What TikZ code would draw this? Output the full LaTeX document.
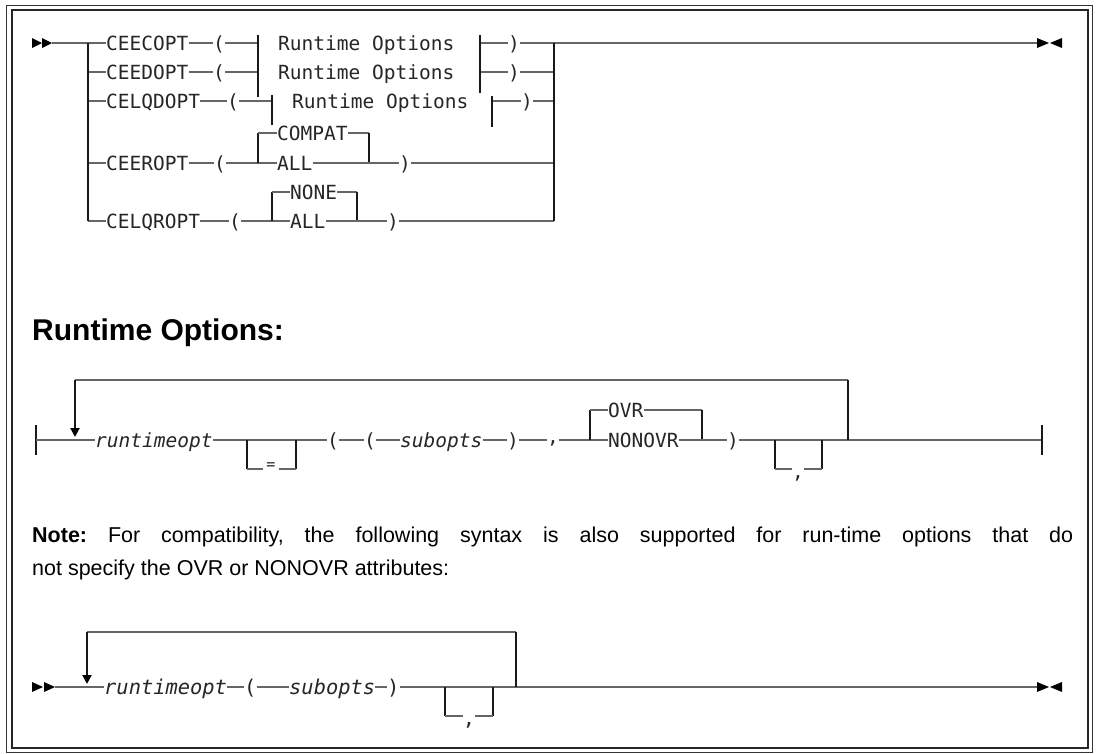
\documentclass[tikz,border=0pt]{standalone}
\usepackage{fontspec}
\setmainfont{Liberation Sans}
\newfontfamily\dmono{DejaVu Sans Mono}
\usetikzlibrary{arrows.meta}
\begin{document}
\frenchspacing
\begin{tikzpicture}[x=1pt,y=-1pt,
  hl/.style={line width=1.5pt, draw=black!60},
  vl/.style={line width=2pt, draw=black!90},
  tx/.style={font=\dmono\fontsize{19.5}{22}\selectfont, inner sep=0pt, text height=14.2pt, text depth=0pt, anchor=west, text=black!85},
  tit/.style={tx, font=\dmono\itshape\fontsize{19.5}{22}\selectfont},
  tb/.style={tx, font=\dmono\fontsize{20.4}{24}\selectfont, text height=14.9pt},
  tbi/.style={tb, font=\dmono\itshape\fontsize{20.4}{24}\selectfont},
  sm/.style={font=\dmono\fontsize{15}{15}\selectfont, inner sep=3pt, text=black!85},
  tri/.style={fill=black, draw=none},
  loopdown/.style={vl, -{Triangle[width=9pt,length=9pt,color=black]}, shorten >=3pt},
  note/.style={anchor=base west, inner sep=0pt, font=\fontsize{21.5}{26}\selectfont},
]
\useasboundingbox (0,0) rectangle (1098,753);
\fill[white] (0,0) rectangle (1098,753);
% frame
\draw[line width=1pt, black!80] (6,5) rectangle (1092,752);
\draw[line width=2pt, black!85] (12,10) rectangle (1088,748);

% ===== top diagram =====
\fill[tri] (32,38)--(42,43)--(32,48)--cycle;
\fill[tri] (42,38)--(52,43)--(42,48)--cycle;
\fill[tri] (1037,38)--(1049,43)--(1037,48)--cycle;
\fill[tri] (1062,38)--(1050,43)--(1062,48)--cycle;
\coordinate (s1) at (52,43);
\coordinate (bl) at (88,43);
\coordinate (blb) at (88,221);
\coordinate (br) at (554,43);
\coordinate (brb) at (554,221);
\coordinate (e1) at (1037,43);

% row 1
\node[tx] (c1) at (106,43) {CEECOPT};
\node[tx] (o1) at (213,43) {(};
\node[tx] (r1) at (278,43) {Runtime Options};
\node[tx] (k1) at (508,43) {)};
\draw[hl] (s1) -- (c1.west);
\draw[hl] (c1.east) -- (o1.west);
\draw[hl] (o1.east) -- (258,43);
\draw[hl] (480,43) -- (k1.west);
\draw[hl] (k1.east) -- (br) -- (e1);
% row 2
\node[tx] (c2) at (106,72) {CEEDOPT};
\node[tx] (o2) at (213,72) {(};
\node[tx] (r2) at (278,72) {Runtime Options};
\node[tx] (k2) at (508,72) {)};
\draw[hl] (88,72) -- (c2.west);
\draw[hl] (c2.east) -- (o2.west);
\draw[hl] (o2.east) -- (258,72);
\draw[hl] (480,72) -- (k2.west);
\draw[hl] (k2.east) -- (554,72);
% row 3
\node[tx] (c3) at (106,101) {CELQDOPT};
\node[tx] (o3) at (227,101) {(};
\node[tx] (r3) at (292,101) {Runtime Options};
\node[tx] (k3) at (521,101) {)};
\draw[hl] (88,101) -- (c3.west);
\draw[hl] (c3.east) -- (o3.west);
\draw[hl] (o3.east) -- (272,101);
\draw[hl] (492,101) -- (k3.west);
\draw[hl] (k3.east) -- (554,101);
% bars of the Runtime Options fragments
\draw[vl] (258,35) -- (258,97);
\draw[vl] (480,35) -- (480,93);
\draw[vl] (272,95) -- (272,125);
\draw[vl] (492,96) -- (492,127);
% row 4
\node[tx] (c4) at (106,163) {CEEROPT};
\node[tx] (o4) at (214,163) {(};
\node[tx] (cp) at (277,133) {COMPAT};
\node[tx] (a4) at (277,163) {ALL};
\node[tx] (k4) at (399,163) {)};
\draw[hl] (88,163) -- (c4.west);
\draw[hl] (c4.east) -- (o4.west);
\draw[hl] (o4.east) -- (a4.west);
\draw[vl] (258,133) -- (258,163);
\draw[hl] (258,133) -- (cp.west);
\draw[hl] (cp.east) -- (369,133);
\draw[vl] (369,133) -- (369,163);
\draw[hl] (a4.east) -- (k4.west);
\draw[hl] (k4.east) -- (554,163);
% row 5
\node[tx] (c5) at (106,221) {CELQROPT};
\node[tx] (o5) at (229,221) {(};
\node[tx] (nn) at (290,192) {NONE};
\node[tx] (a5) at (290,221) {ALL};
\node[tx] (k5) at (387,221) {)};
\draw[hl] (blb) -- (c5.west);
\draw[hl] (c5.east) -- (o5.west);
\draw[hl] (o5.east) -- (a5.west);
\draw[vl] (272,192) -- (272,221);
\draw[hl] (272,192) -- (nn.west);
\draw[hl] (nn.east) -- (357,192);
\draw[vl] (357,192) -- (357,221);
\draw[hl] (a5.east) -- (k5.west);
\draw[hl] (k5.east) -- (brb);
% branch verticals
\draw[vl] (bl) -- (blb);
\draw[vl] (br) -- (brb);

% ===== heading =====
\node[anchor=base west, inner sep=0pt, font=\bfseries\fontsize{30}{35}\selectfont] (head) at (32,340) {Runtime Options:};

% ===== runtime options diagram =====
\coordinate (sb) at (36,440);
\draw[vl] (36,425) -- (36,455);
\node[tit] (rt1) at (95,440) {runtimeopt};
\node[tx] (q1) at (327,440) {(};
\node[tx] (q2) at (364,440) {(};
\node[tit] (sub1) at (400,440) {subopts};
\node[tx] (q3) at (507,440) {)};
\node[tx, yshift=4pt] (cm1) at (547,440) {,};
\node[tx] (ovr) at (608,410) {OVR};
\node[tx] (nov) at (608,440) {NONOVR};
\node[tx] (q4) at (727,440) {)};
\node[sm] (eq) at (271,466) {=};
\node[tx, anchor=center, yshift=-2pt] (cm2) at (798,469) {,};
\coordinate (lp1) at (75,380);
\coordinate (lp2) at (848,380);
\coordinate (eb) at (1042,440);
\draw[hl] (sb) -- (rt1.west);
\draw[hl] (rt1.east) -- (q1.west);
\draw[hl] (q1.east) -- (q2.west);
\draw[hl] (q2.east) -- (sub1.west);
\draw[hl] (sub1.east) -- (q3.west);
\draw[hl] (q3.east) -- (cm1.west |- 0,440);
\draw[hl] (cm1.east |- 0,440) -- (nov.west);
\draw[vl] (590,410) -- (590,440);
\draw[hl] (590,410) -- (ovr.west);
\draw[hl] (ovr.east) -- (702,410);
\draw[vl] (702,410) -- (702,440);
\draw[hl] (nov.east) -- (q4.west);
\draw[hl] (q4.east) -- (eb);
\draw[vl] (1042,425) -- (1042,455);
% = box
\draw[vl] (247,440) -- (247,469);
\draw[vl] (296,440) -- (296,469);
\draw[hl] (247,469) -- (eq.west |- 0,469);
\draw[hl] (eq.east |- 0,469) -- (296,469);
% , box
\draw[vl] (775,440) -- (775,469);
\draw[vl] (822,440) -- (822,469);
\draw[hl] (775,469) -- (792,469);
\draw[hl] (804,469) -- (822,469);
% loop
\draw[hl] (lp1) -- (lp2);
\draw[vl] (lp2) -- (848,440);
\draw[loopdown] (lp1) -- (75,440);

% ===== note =====
\node[note] (n1) at (32,542) {\makebox[1041pt][s]{\textbf{Note:} For compatibility, the following syntax is also supported for run-time options that do}};
\node[note] (n2) at (32,575) {not specify the OVR or NONOVR attributes:};

% ===== bottom diagram =====
\fill[tri] (32,682)--(43,687)--(32,692)--cycle;
\fill[tri] (44,682)--(55,687)--(44,692)--cycle;
\fill[tri] (1037,682)--(1049,687)--(1037,692)--cycle;
\fill[tri] (1062,682)--(1050,687)--(1062,692)--cycle;
\coordinate (s2) at (55,687);
\coordinate (e2) at (1037,687);
\coordinate (lq1) at (87,632);
\coordinate (lq2) at (516,632);
\node[tbi] (rt2) at (104,687) {runtimeopt};
\node[tb] (b1) at (244,687) {(};
\node[tbi] (sub2) at (289,687) {subopts};
\node[tb] (b2) at (387,687) {)};
\node[tb, anchor=center, yshift=-2pt] (cm3) at (469,716) {,};
\draw[hl] (s2) -- (rt2.west);
\draw[hl] (rt2.east) -- (b1.west);
\draw[hl] (b1.east) -- (sub2.west);
\draw[hl] (sub2.east) -- (b2.west);
\draw[hl] (b2.east) -- (e2);
\draw[vl] (445,687) -- (445,716);
\draw[vl] (493,687) -- (493,716);
\draw[hl] (445,716) -- (463,716);
\draw[hl] (475,716) -- (493,716);
\draw[hl] (lq1) -- (lq2);
\draw[vl] (lq2) -- (516,687);
\draw[loopdown] (lq1) -- (87,687);
\end{tikzpicture}
\end{document}
